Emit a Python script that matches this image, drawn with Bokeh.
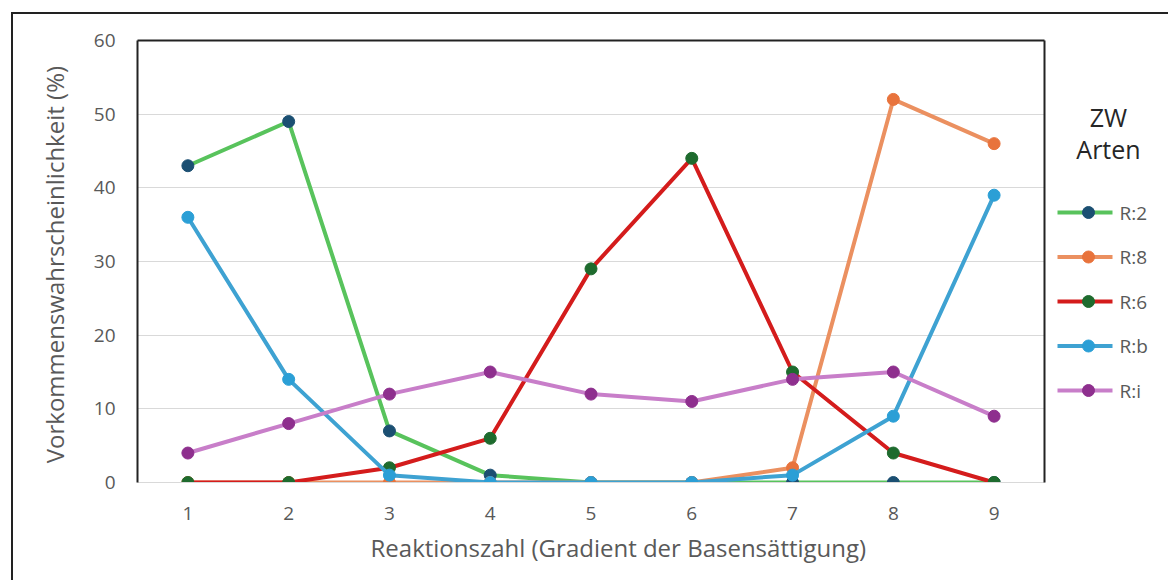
from bokeh.plotting import figure
from bokeh.models import (Title, LinearAxis, FixedTicker, Range1d)
from bokeh.layouts import row
from bokeh.embed import file_html
from bokeh.resources import INLINE
from bokeh.core.properties import value

# ---- data ----
x_vals = [1, 2, 3, 4, 5, 6, 7, 8, 9]
series_names = ["R:2", "R:8", "R:6", "R:b", "R:i"]
r2 = [43, 49, 7, 1, 0, 0, 0, 0, 0]
r8 = [0, 0, 0, 0, 0, 0, 2, 52, 46]
r6 = [0, 0, 2, 6, 29, 44, 15, 4, 0]
rb = [36, 14, 1, 0, 0, 0, 1, 9, 39]
ri = [4, 8, 12, 15, 12, 11, 14, 15, 9]
y_ticks = [0, 10, 20, 30, 40, 50, 60]
legend_title = ["ZW", "Arten"]
x_title = "Reaktionszahl (Gradient der Basensättigung)"
y_title = "Vorkommenswahrscheinlichkeit  (%)"

line_colors = ["#58c35c", "#eb9060", "#d41c1c", "#3ea2d2", "#c87ec9"]
marker_colors = ["#1b4f72", "#e8733c", "#1e6b2e", "#2b9fd6", "#8e2f8e"]

FONT = "Open Sans"
H = 566
PW = 1036
QW = 119

p = figure(width=PW, height=H, output_backend="svg", toolbar_location=None,
           x_range=Range1d(0.5, 9.5), y_range=Range1d(0, 60),
           min_border_left=124, min_border_right=5, min_border_top=26,
           min_border_bottom=98, background_fill_color="white",
           border_fill_color="white")
p.outline_line_color = None

p.xaxis.ticker = FixedTicker(ticks=x_vals)
p.yaxis.ticker = FixedTicker(ticks=y_ticks)
for ax in (p.xaxis[0], p.yaxis[0]):
    ax.major_tick_line_color = None
    ax.minor_tick_line_color = None
    ax.major_tick_out = 0
    ax.major_tick_in = 0
    ax.minor_tick_out = 0
    ax.major_label_text_font = FONT
    ax.major_label_text_font_size = "19px"
    ax.major_label_text_color = "#595959"
    ax.axis_label_text_font = FONT
    ax.axis_label_text_font_size = "24px"
    ax.axis_label_text_font_style = "normal"
    ax.axis_label_text_color = "#595959"
p.yaxis.axis_label = y_title
p.xaxis.axis_line_color = "#d9d9d9"
p.yaxis.axis_line_color = "#222222"
p.yaxis.axis_line_width = 2
p.xaxis.major_label_standoff = 24
p.yaxis.major_label_standoff = 22
p.yaxis.axis_label_standoff = 20

# x-axis title (below the axis, shifted right as in the reference)
p.add_layout(Title(text=x_title, align="left", offset=233, standoff=12,
                   text_font=FONT, text_font_size="24px",
                   text_font_style="normal", text_color="#595959"), "below")

for loc in ("above", "right"):
    ax = LinearAxis(ticker=FixedTicker(ticks=[]), axis_line_color="#222222",
                    axis_line_width=2, major_tick_line_color=None,
                    minor_tick_line_color=None, major_tick_out=0,
                    major_tick_in=0, minor_tick_out=0,
                    major_label_text_alpha=0)
    p.add_layout(ax, loc)

p.xgrid.grid_line_color = None
p.ygrid.grid_line_color = "#d9d9d9"
p.ygrid.grid_line_width = 1

all_series = [r2, r8, r6, rb, ri]
for name, ys, lc, mc in zip(series_names, all_series, line_colors, marker_colors):
    p.line(x_vals, ys, line_color=lc, line_width=4)
    p.scatter(x_vals, ys, size=12, fill_color=mc, line_color=mc)

# ---- legend panel: its frame is aligned with the main frame (page y 40..482),
# so the ranges are set to page pixel coordinates ----
X0 = 1049
q = figure(width=QW, height=H, output_backend="svg", toolbar_location=None,
           x_range=Range1d(X0, X0 + QW), y_range=Range1d(482, 40),
           min_border=0, min_border_left=0, min_border_right=0,
           min_border_top=26, min_border_bottom=98,
           background_fill_color="white", border_fill_color="white")
q.outline_line_color = None
q.axis.visible = False
q.grid.visible = False

TOP = 212      # first legend row centre (page px)
PITCH = 44.5
for i, (name, lc, mc) in enumerate(zip(series_names, line_colors, marker_colors)):
    yy = TOP + i * PITCH
    q.segment(x0=[1057], y0=[yy], x1=[1112], y1=[yy], line_color=lc, line_width=4)
    q.scatter(x=[1088], y=[yy], size=12, fill_color=mc, line_color=mc)
    q.text(x=[1119], y=[yy], text=[name], text_align="left",
           text_baseline="middle", text_font=value(FONT),
           text_font_size="19px", text_color="#595959")

for txt, ty in zip(legend_title, (116, 148)):
    q.text(x=[1108], y=[ty], text=[txt], text_align="center",
           text_baseline="middle", text_font=value(FONT),
           text_font_size="25px", text_color="#262626")

layout = row(p, q, margin=(12, 0, 0, 11),
             styles={"border-left": "2px solid #222222",
                     "border-top": "2px solid #222222"})

open("out.html", "w").write(file_html(layout, INLINE))
